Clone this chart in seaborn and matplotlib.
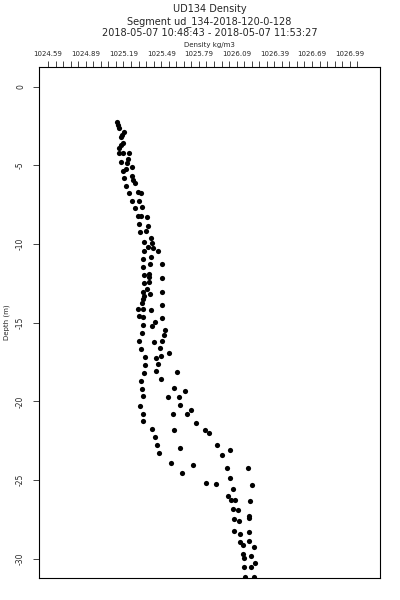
import numpy as np
import pandas as pd
import matplotlib
matplotlib.use("Agg")
from matplotlib import pyplot as plt
from matplotlib.ticker import FixedLocator
import seaborn as sns

# density profile (kg/m3, m)
density = [
    1025.141, 1025.149, 1025.157, 1025.195, 1025.176, 1025.168, 1025.184, 1025.168,
    1025.155, 1025.157, 1025.184, 1025.237, 1025.229, 1025.171, 1025.221, 1025.261,
    1025.210, 1025.184, 1025.256, 1025.195, 1025.269, 1025.282, 1025.208, 1025.308,
    1025.327, 1025.232, 1025.256, 1025.316, 1025.335, 1025.282, 1025.330, 1025.304,
    1025.375, 1025.314, 1025.383, 1025.370, 1025.322, 1025.407, 1025.354, 1025.415,
    1025.383, 1025.423, 1025.467, 1025.356, 1025.409, 1025.348, 1025.494, 1025.401,
    1025.348, 1025.354, 1025.396, 1025.396, 1025.494, 1025.393, 1025.354, 1025.375,
    1025.343, 1025.494, 1025.401, 1025.354, 1025.348, 1025.335, 1025.499, 1025.308,
    1025.348, 1025.407, 1025.316, 1025.343, 1025.494, 1025.441, 1025.415, 1025.343,
    1025.521, 1025.335, 1025.515, 1025.316, 1025.436, 1025.499, 1025.481, 1025.330,
    1025.550, 1025.489, 1025.362, 1025.447, 1025.463, 1025.362, 1025.447, 1025.619,
    1025.354, 1025.489, 1025.327, 1025.595, 1025.338, 1025.677, 1025.343, 1025.547,
    1025.632, 1025.322, 1025.640, 1025.728, 1025.348, 1025.582, 1025.693, 1025.346,
    1025.767, 1025.420, 1025.592, 1025.839, 1025.873, 1025.441, 1025.457, 1025.937,
    1025.640, 1026.035, 1025.475, 1025.970, 1025.568, 1025.746, 1026.012, 1026.183,
    1025.654, 1026.038, 1025.845, 1025.926, 1026.210, 1026.059, 1026.020, 1026.043,
    1026.080, 1026.197, 1026.064, 1026.104, 1026.189, 1026.191, 1026.070, 1026.112,
    1026.072, 1026.117, 1026.189, 1026.117, 1026.144, 1026.189, 1026.231, 1026.139,
    1026.147, 1026.203, 1026.234, 1026.152, 1026.203, 1026.157, 1026.229,
]
depth = [
    -2.23, -2.44, -2.65, -2.87, -3.08, -3.23, -3.61, -3.71,
    -3.92, -4.20, -4.24, -4.20, -4.62, -4.81, -4.88, -5.13,
    -5.26, -5.35, -5.66, -5.83, -5.94, -6.11, -6.30, -6.68,
    -6.74, -6.78, -7.25, -7.25, -7.67, -7.73, -8.20, -8.22,
    -8.27, -8.75, -8.84, -9.16, -9.22, -9.64, -9.85, -9.92,
    -10.17, -10.23, -10.43, -10.44, -10.81, -10.95, -11.27, -11.29,
    -11.44, -11.94, -11.90, -12.11, -12.13, -12.39, -12.50, -12.86,
    -13.03, -13.03, -13.19, -13.30, -13.51, -13.73, -13.85, -14.13,
    -14.13, -14.19, -14.55, -14.62, -14.72, -14.93, -15.19, -15.16,
    -15.46, -15.67, -15.76, -16.18, -16.20, -16.16, -16.62, -16.69,
    -16.94, -17.13, -17.19, -17.24, -17.62, -17.70, -18.08, -18.11,
    -18.21, -18.59, -18.72, -19.14, -19.19, -19.35, -19.65, -19.71,
    -19.71, -20.29, -20.22, -20.56, -20.77, -20.77, -20.81, -21.26,
    -21.38, -21.73, -21.83, -21.83, -22.02, -22.27, -22.76, -22.76,
    -22.93, -23.10, -23.30, -23.43, -23.89, -24.06, -24.20, -24.20,
    -24.56, -24.86, -25.17, -25.24, -25.30, -25.54, -25.98, -26.25,
    -26.23, -26.34, -26.81, -26.89, -27.27, -27.40, -27.48, -27.59,
    -28.20, -28.39, -28.30, -28.94, -29.11, -28.88, -29.22, -29.70,
    -29.92, -29.81, -30.23, -30.49, -30.49, -31.12, -31.16,
]

x_ticks = [1024.59, 1024.89, 1025.19, 1025.49, 1025.79, 1026.09, 1026.39, 1026.69, 1026.99]
x_ticklabels = ["1024.59", "1024.89", "1025.19", "1025.49", "1025.79",
                "1026.09", "1026.39", "1026.69", "1026.99"]
y_ticks = [0, -5, -10, -15, -20, -25, -30]

df = pd.DataFrame({"density": density, "depth": depth})

sns.set_style("ticks")
plt.rcParams['font.family'] = ['DejaVu Sans']

fig = plt.figure(figsize=(4, 6), dpi=100)
ax = fig.add_axes([0.0975, 0.0367, 0.8525, 0.8516])

sns.scatterplot(data=df, x="density", y="depth", ax=ax, color="black",
                marker="o", s=14, linewidth=0, legend=False)

ax.set_xlim(1024.518, 1027.231)
ax.set_ylim(-31.21, 1.24)

# top axis with ticks every 0.06
ax.xaxis.tick_top()
ax.xaxis.set_label_position("top")
ax.xaxis.set_major_locator(FixedLocator(x_ticks))
ax.set_xticklabels(x_ticklabels)
ax.xaxis.set_minor_locator(FixedLocator(np.arange(1024.59, 1027.06, 0.06)))
ax.tick_params(axis="x", which="both", direction="out", length=4, width=0.6,
               labelsize=5, pad=3)
ax.set_xlabel("Density kg/m3", fontsize=5, labelpad=3)

ax.set_yticks(y_ticks)
ax.set_yticklabels([str(v) for v in y_ticks], rotation=90, va="center")
ax.tick_params(axis="y", direction="out", length=4, width=0.6, labelsize=5.5, pad=6)
ax.set_ylabel("Depth (m)", fontsize=5)
ax.yaxis.set_label_coords(-0.085, 0.5)

for sp in ax.spines.values():
    sp.set_visible(True)
    sp.set_linewidth(0.8)
    sp.set_color("black")

fig.text(0.524, 0.994, "UD134 Density", ha="center", va="top", fontsize=7)
fig.text(0.524, 0.974, "Segment ud_134-2018-120-0-128", ha="center", va="top", fontsize=7)
fig.text(0.524, 0.954, "2018-05-07 10:48:43 - 2018-05-07 11:53:27", ha="center", va="top", fontsize=7)

fig.savefig("out.png", dpi=100)
